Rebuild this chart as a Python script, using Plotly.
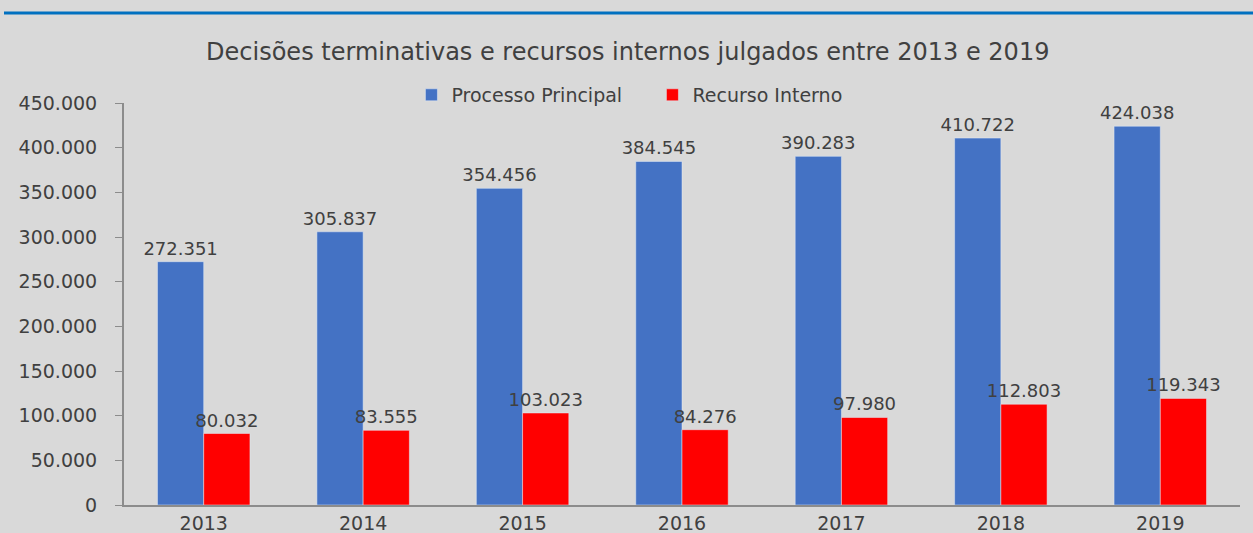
import plotly.graph_objects as go

anos = ["2013", "2014", "2015", "2016", "2017", "2018", "2019"]
processo_principal = [272351, 305837, 354456, 384545, 390283, 410722, 424038]
recurso_interno = [80032, 83555, 103023, 84276, 97980, 112803, 119343]
y_ticks = [0, 50000, 100000, 150000, 200000, 250000, 300000, 350000, 400000, 450000]

FONT = "DejaVu Sans"
TXT = "#404040"

fig = go.Figure()
fig.add_bar(x=anos, y=processo_principal, name="Processo Principal",
            marker_color="#4472c4", texttemplate="%{y:,d}", textposition="outside",
            constraintext="none",
            textfont=dict(family=FONT, size=18, color=TXT), cliponaxis=False)
fig.add_bar(x=anos, y=recurso_interno, name="Recurso Interno",
            marker_color="#ff0000", texttemplate="%{y:,d}", textposition="outside",
            constraintext="none",
            textfont=dict(family=FONT, size=18, color=TXT), cliponaxis=False)

fig.update_layout(
    width=1253, height=533,
    margin=dict(l=124, r=13, t=103, b=28, autoexpand=False),
    paper_bgcolor="#d9d9d9", plot_bgcolor="#d9d9d9",
    separators=",.",
    barmode="group", bargap=0.42, bargroupgap=0,
    font=dict(family=FONT, size=18, color=TXT),
    title=dict(text="Decisões terminativas e recursos internos julgados entre 2013 e 2019",
               x=0.501, xanchor="center", y=1 - 52 / 533, yanchor="middle",
               font=dict(family=FONT, size=24, color=TXT)),
    legend=dict(orientation="h", x=0.4735, xanchor="center", y=1.02, yanchor="middle",
                bgcolor="rgba(0,0,0,0)", font=dict(family=FONT, size=19, color=TXT),
                itemwidth=30, traceorder="normal",
                entrywidth=196, entrywidthmode="pixels"),
)
fig.update_yaxes(range=[0, 450000], tickvals=y_ticks, tickformat=",d", automargin=False,
                 showgrid=False, zeroline=False, showline=True, linecolor="#8c8c8c",
                 linewidth=2, ticks="outside", ticklen=7, tickcolor="#8c8c8c",
                 ticklabelstandoff=14,
                 tickfont=dict(family=FONT, size=19, color=TXT))
fig.update_xaxes(showgrid=False, showline=True, linecolor="#8c8c8c", linewidth=2,
                 automargin=False, ticks="",
                 tickfont=dict(family=FONT, size=19, color=TXT))

fig.add_shape(type="line", xref="paper", yref="paper",
              x0=(4 - 124) / 1116, x1=(1253 - 124) / 1116,
              y0=(505 - 13) / 402, y1=(505 - 13) / 402,
              line=dict(color="#0070c0", width=3))

fig.write_html("out.html", config={"displayModeBar": False},
               post_script="document.body.style.margin='0';document.body.style.overflow='hidden';")
